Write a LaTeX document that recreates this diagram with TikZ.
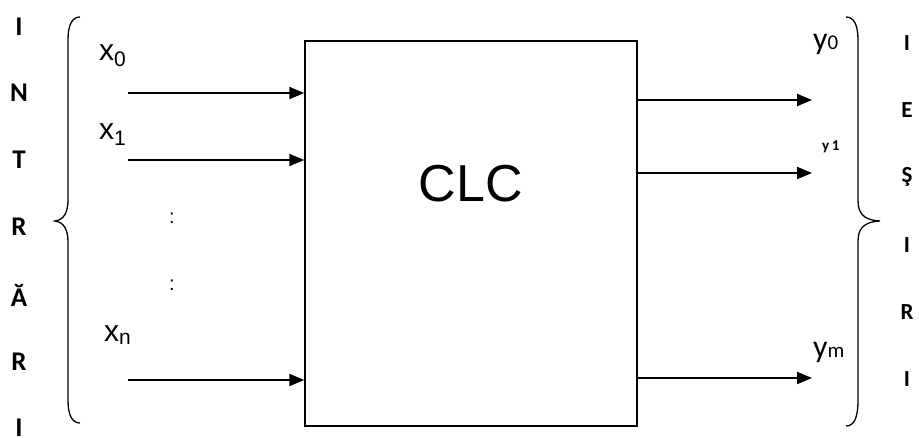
\documentclass[tikz,border=0pt]{standalone}
\usepackage{fontspec}
\setmainfont{Liberation Sans}
\newfontfamily\carlfont{Carlito}
\usetikzlibrary{arrows.meta}
\begin{document}
\begin{tikzpicture}[x=1pt,y=-1pt,
  arr/.style={line width=2pt,-{Triangle[length=15pt,width=12pt]}},
  brc/.style={line width=1.3pt},
  lett/.style={font=\carlfont\bfseries\fontsize{27}{27}\selectfont,inner sep=0pt},
  rlett/.style={font=\carlfont\bfseries\fontsize{23}{23}\selectfont,inner sep=0pt},
  xlab/.style={font=\fontsize{30}{30}\selectfont,inner sep=0pt},
  ylab/.style={font=\carlfont\fontsize{32}{32}\selectfont,inner sep=0pt}]
\useasboundingbox[fill=white] (0,0) rectangle (919,437);
\node[draw,line width=1.5pt,minimum width=332pt,minimum height=385pt,inner sep=0pt] (clc) at (471,233.5) {};
\node[font=\fontsize{52}{52}\selectfont] (t) at (471,184) {CLC};
% inputs
\coordinate (i0) at (128,93);
\coordinate (i1) at (128,160);
\coordinate (in) at (128,380);
\draw[arr] (i0) -- (i0 -| clc.west);
\draw[arr] (i1) -- (i1 -| clc.west);
\draw[arr] (in) -- (in -| clc.west);
% outputs
\coordinate (o0) at (812,100);
\coordinate (o1) at (812,173);
\coordinate (om) at (812,378);
\draw[arr] (o0 -| clc.east) -- (o0);
\draw[arr] (o1 -| clc.east) -- (o1);
\draw[arr] (om -| clc.east) -- (om);
% labels
\node[xlab,anchor=west] (lx0) at (99,56) {x$_{\mathrm{0}}$};
\node[xlab,anchor=west] (lx1) at (99,135) {x$_{\mathrm{1}}$};
\node[xlab,anchor=west] (lxn) at (104,335) {x$_{\mathrm{n}}$};
\node[font=\fontsize{20}{20}\selectfont] (d1) at (172,218) {:};
\node[font=\fontsize{20}{20}\selectfont] (d2) at (172,285) {:};
\node[ylab,anchor=west] (ly0) at (813,44) {y{\fontsize{21}{21}\selectfont 0}};
\node[font=\carlfont\bfseries\fontsize{15}{15}\selectfont,anchor=west,inner sep=0pt] (ly1) at (822,147) {y\,1};
\node[ylab,anchor=west] (lym) at (813,352) {y{\fontsize{21}{21}\selectfont m}};
% braces
\draw[brc] (80,17) .. controls (72,17) and (68,25) .. (68,40) -- (68,200) .. controls (68,212) and (64,220) .. (55,221) .. controls (64,222) and (68,230) .. (68,242) -- (68,400) .. controls (68,415) and (72,423) .. (80,423);
\draw[brc] (846,17) .. controls (854,17) and (858,25) .. (858,40) -- (858,200) .. controls (858,212) and (862,220) .. (880,221) .. controls (862,222) and (858,230) .. (858,242) -- (858,400) .. controls (858,418) and (854,426) .. (846,426);
% letters
\node[lett] (l1) at (19,27) {I};
\node[lett] (l2) at (19,93) {N};
\node[lett] (l3) at (19,160) {T};
\node[lett] (l4) at (19,227) {R};
\node[lett] (l5) at (19,295) {Ă};
\node[lett] (l6) at (19,362) {R};
\node[lett] (l7) at (19,428) {I};
\node[rlett] (r1) at (907,43) {I};
\node[rlett] (r2) at (907,110) {E};
\node[rlett] (r3) at (907,177) {Ş};
\node[rlett] (r4) at (907,245) {I};
\node[rlett] (r5) at (907,312) {R};
\node[rlett] (r6) at (907,379) {I};
\end{tikzpicture}
\end{document}
